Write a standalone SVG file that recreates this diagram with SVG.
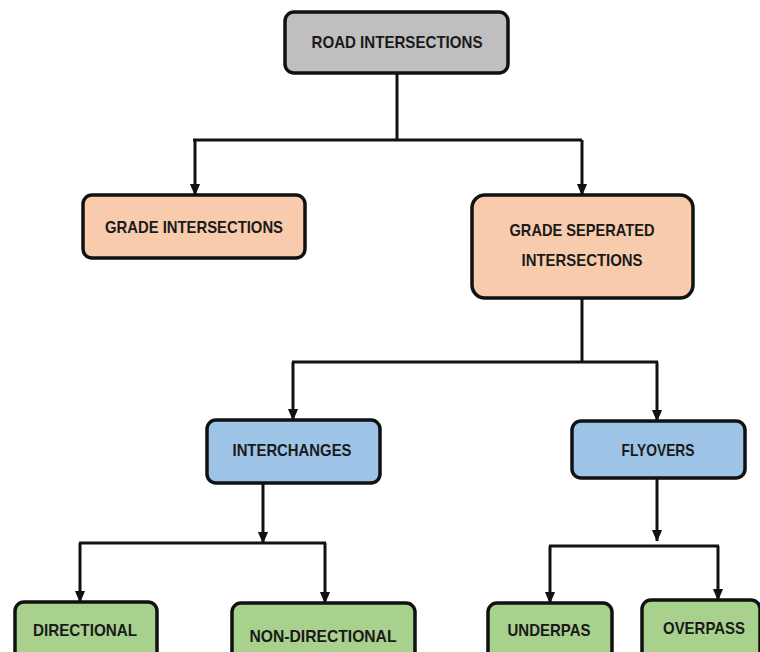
<svg xmlns="http://www.w3.org/2000/svg" width="760" height="652" viewBox="0 0 760 652">
<style>
.box{stroke:#111;stroke-width:3.5}
.gray{fill:#bfbfbf}.orange{fill:#f8cbad}.blue{fill:#9dc3e6}.green{fill:#a9d18e}
.lbl{font-family:"Liberation Sans",Arial,sans-serif;font-weight:bold;font-size:17px;fill:#1a1a1a;text-anchor:middle;dominant-baseline:central}
.con{fill:none;stroke:#111;stroke-width:3}
</style>
<defs>
<marker id="arr" markerUnits="userSpaceOnUse" markerWidth="12" markerHeight="14" refX="13" refY="6" orient="auto" viewBox="0 0 14 12">
<path d="M0,0 L14,6 L0,12 Z" fill="#111"/>
</marker>
</defs>
<rect width="760" height="652" fill="#fff"/>
<g id="connectors">
<path class="con" d="M397 73 V140"/>
<path class="con" d="M193 140 H582"/>
<path class="con" d="M195 140 V195" marker-end="url(#arr)"/>
<path class="con" d="M582 140 V195" marker-end="url(#arr)"/>
<path class="con" d="M582 298 V362"/>
<path class="con" d="M292 362 H658"/>
<path class="con" d="M293 362 V420" marker-end="url(#arr)"/>
<path class="con" d="M657 362 V421" marker-end="url(#arr)"/>
<path class="con" d="M263 483 V543" marker-end="url(#arr)"/>
<path class="con" d="M79 543 H326"/>
<path class="con" d="M80 543 V602" marker-end="url(#arr)"/>
<path class="con" d="M325 543 V603" marker-end="url(#arr)"/>
<path class="con" d="M657 478 V541" marker-end="url(#arr)"/>
<path class="con" d="M549 546 H719"/>
<path class="con" d="M550 546 V603" marker-end="url(#arr)"/>
<path class="con" d="M718 546 V600" marker-end="url(#arr)"/>
</g>
<g id="road-intersections">
<rect class="box gray" x="285" y="12" width="223" height="61" rx="9"/>
<text class="lbl" x="397" y="42" textLength="171" lengthAdjust="spacingAndGlyphs">ROAD INTERSECTIONS</text>
</g>
<g id="grade-intersections">
<rect class="box orange" x="83" y="195" width="222" height="63" rx="9"/>
<text class="lbl" x="194" y="227" textLength="178" lengthAdjust="spacingAndGlyphs">GRADE INTERSECTIONS</text>
</g>
<g id="grade-separated">
<rect class="box orange" x="472" y="195" width="221" height="103" rx="13"/>
<text class="lbl" x="582" y="230" textLength="145" lengthAdjust="spacingAndGlyphs">GRADE SEPERATED</text>
<text class="lbl" x="582" y="260" textLength="121" lengthAdjust="spacingAndGlyphs">INTERSECTIONS</text>
</g>
<g id="interchanges">
<rect class="box blue" x="207" y="420" width="173" height="63" rx="9"/>
<text class="lbl" x="292" y="450" textLength="119" lengthAdjust="spacingAndGlyphs">INTERCHANGES</text>
</g>
<g id="flyovers">
<rect class="box blue" x="572" y="421" width="173" height="57" rx="9"/>
<text class="lbl" x="658" y="450" textLength="73" lengthAdjust="spacingAndGlyphs">FLYOVERS</text>
</g>
<g id="directional">
<rect class="box green" x="15" y="602" width="142" height="60" rx="9"/>
<text class="lbl" x="85" y="630" textLength="104" lengthAdjust="spacingAndGlyphs">DIRECTIONAL</text>
</g>
<g id="non-directional">
<rect class="box green" x="232" y="603" width="183" height="60" rx="9"/>
<text class="lbl" x="323" y="636" textLength="147" lengthAdjust="spacingAndGlyphs">NON-DIRECTIONAL</text>
</g>
<g id="underpas">
<rect class="box green" x="488" y="603" width="124" height="60" rx="9"/>
<text class="lbl" x="549" y="630" textLength="83" lengthAdjust="spacingAndGlyphs">UNDERPAS</text>
</g>
<g id="overpass">
<rect class="box green" x="642" y="600" width="118" height="60" rx="9"/>
<text class="lbl" x="704" y="628" textLength="82" lengthAdjust="spacingAndGlyphs">OVERPASS</text>
</g>
</svg>
